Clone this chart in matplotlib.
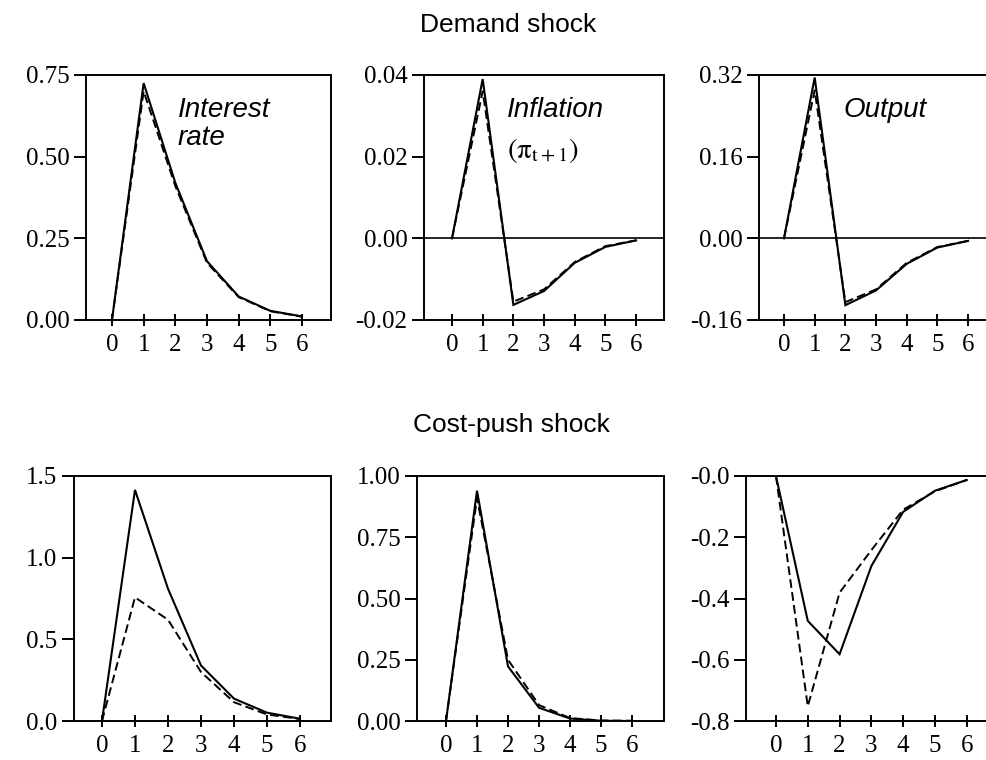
import numpy as np
import matplotlib
matplotlib.use("Agg")
import matplotlib.pyplot as plt

plt.rcParams['font.family'] = ['Liberation Serif', 'DejaVu Serif']
plt.rcParams['mathtext.fontset'] = 'stix'

periods = [0, 1, 2, 3, 4, 5, 6]

# demand shock
dem_rate_solid = [0.0, 0.725, 0.42, 0.18, 0.072, 0.028, 0.011]
dem_rate_dash = [0.0, 0.70, 0.41, 0.175, 0.07, 0.027, 0.010]
dem_infl_solid = [0.0, 0.0390, -0.0163, -0.0129, -0.0060, -0.0021, -0.0005]
dem_infl_dash = [0.0, 0.0360, -0.0155, -0.0125, -0.0058, -0.0019, -0.0005]
dem_out_solid = [0.0, 0.315, -0.131, -0.102, -0.050, -0.018, -0.005]
dem_out_dash = [0.0, 0.290, -0.125, -0.100, -0.048, -0.017, -0.005]

# cost-push shock
cp_rate_solid = [0.0, 1.415, 0.81, 0.34, 0.137, 0.051, 0.014]
cp_rate_dash = [0.0, 0.757, 0.62, 0.30, 0.115, 0.040, 0.012]
cp_infl_solid = [0.0, 0.940, 0.223, 0.054, 0.010, 0.001, 0.0]
cp_infl_dash = [0.0, 0.910, 0.250, 0.065, 0.012, 0.002, 0.001]
cp_out_solid = [0.0, -0.473, -0.582, -0.294, -0.117, -0.048, -0.013]
cp_out_dash = [0.0, -0.752, -0.381, -0.242, -0.110, -0.050, -0.013]

row_titles = ["Demand shock", "Cost-push shock"]

W, H = 986, 760
fig = plt.figure(figsize=(W / 100, H / 100), dpi=100)

# (left px, top px, width px, height px, xlim, ylim, yticks, ticklabels)
panels = [
    (86, 75, 245, 245, (-0.82, 6.915), (0, 0.75), [0, 0.25, 0.5, 0.75],
     ["0.00", "0.25", "0.50", "0.75"], dem_rate_solid, dem_rate_dash, False),
    (424, 75, 240, 245, (-0.913, 6.91), (-0.02, 0.04), [-0.02, 0, 0.02, 0.04],
     ["-0.02", "0.00", "0.02", "0.04"], dem_infl_solid, dem_infl_dash, True),
    (759, 75, 237, 245, (-0.815, 6.91), (-0.16, 0.32), [-0.16, 0, 0.16, 0.32],
     ["-0.16", "0.00", "0.16", "0.32"], dem_out_solid, dem_out_dash, True),
    (74, 476, 257, 245, (-0.848, 6.94), (0, 1.5), [0, 0.5, 1.0, 1.5],
     ["0.0", "0.5", "1.0", "1.5"], cp_rate_solid, cp_rate_dash, False),
    (417, 476, 247, 245, (-0.935, 7.03), (0, 1.0), [0, 0.25, 0.5, 0.75, 1.0],
     ["0.00", "0.25", "0.50", "0.75", "1.00"], cp_infl_solid, cp_infl_dash, False),
    (746, 476, 250, 245, (-0.943, 6.92), (-0.8, 0), [-0.8, -0.6, -0.4, -0.2, 0],
     ["-0.8", "-0.6", "-0.4", "-0.2", "-0.0"], cp_out_solid, cp_out_dash, False),
]

axes = []
for (lx, ty, w, h, xl, yl, yt, ytl, solid, dash, zero) in panels:
    ax = fig.add_axes([lx / W, (H - ty - h) / H, w / W, h / H])
    ax.plot(periods, solid, color='black', lw=1.5, solid_joinstyle='miter')
    ax.plot(periods, dash, color='black', lw=1.4, linestyle=(0, (4.5, 2.2)))
    if zero:
        ax.axhline(0, color='black', lw=1.2)
    ax.set_xlim(*xl)
    ax.set_ylim(*yl)
    ax.set_xticks(periods)
    ax.set_yticks(yt)
    ax.set_yticklabels(ytl)
    for s in ax.spines.values():
        s.set_linewidth(1.4)
    ax.tick_params(axis='y', direction='out', length=9, width=1.4, pad=3, labelsize=18)
    ax.tick_params(axis='x', direction='inout', length=8, width=1.4, pad=6, labelsize=18)
    axes.append(ax)

sans = ['Liberation Sans', 'DejaVu Sans']
axes[0].text(0.375, 0.91, "Interest\nrate", transform=axes[0].transAxes,
             ha='left', va='top', fontsize=20, style='italic', family=sans,
             linespacing=1.1)
axes[1].text(0.346, 0.91, "Inflation", transform=axes[1].transAxes,
             ha='left', va='top', fontsize=20, style='italic', family=sans)
axes[1].text(0.346, 0.69, r"$(\mathrm{\pi}_{\mathrm{t+1}})$", transform=axes[1].transAxes,
             ha='left', va='center', fontsize=21)
axes[2].text(0.355, 0.91, "Output", transform=axes[2].transAxes,
             ha='left', va='top', fontsize=20, style='italic', family=sans)

fig.text(508 / W, 1 - 25 / H, row_titles[0], ha='center', va='center',
         fontsize=19, family=sans)
fig.text(511 / W, 1 - 425 / H, row_titles[1], ha='center', va='center',
         fontsize=19, family=sans)

fig.savefig("out.png", dpi=100)
